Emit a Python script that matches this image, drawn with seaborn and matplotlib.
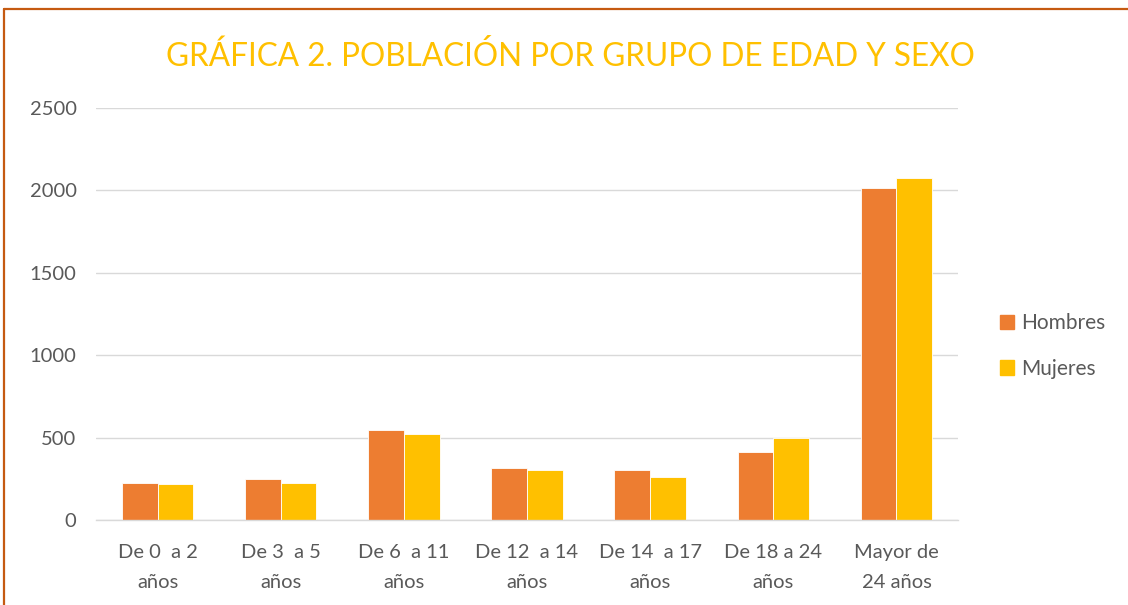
import pandas as pd
import matplotlib.pyplot as plt
import seaborn as sns
from matplotlib.patches import Patch
from matplotlib.lines import Line2D

sns.set_theme(style="white")
plt.rcParams['font.family'] = ['Lato', 'DejaVu Sans']

# Datos
grupos = ['De 0  a 2\naños', 'De 3  a 5\naños', 'De 6  a 11\naños', 'De 12  a 14\naños',
          'De 14  a 17\naños', 'De 18 a 24\naños', 'Mayor de\n24 años']
hombres = [227, 246, 545, 317, 306, 412, 2014]
mujeres = [219, 227, 524, 305, 259, 500, 2075]
series = ['Hombres', 'Mujeres']
colores = ['#ED7D31', '#FFC000']

df = pd.DataFrame({
    'Grupo': grupos * 2,
    'Sexo': ['Hombres'] * len(grupos) + ['Mujeres'] * len(grupos),
    'Población': hombres + mujeres,
})

fig = plt.figure(figsize=(11.28, 6.05), dpi=100)
ax = fig.add_axes([0.0851, 0.1405, 0.7642, 0.681])

sns.barplot(data=df, x='Grupo', y='Población', hue='Sexo', palette=colores, saturation=1,
            width=0.58, gap=0, edgecolor='white', linewidth=0.6, legend=False, ax=ax)

ax.set_ylim(0, 2500)
ax.set_yticks([0, 500, 1000, 1500, 2000, 2500])
ax.set_xlim(-0.5, len(grupos) - 0.5)
ax.set_xticks(range(len(grupos)))
ax.set_xticklabels(grupos, linespacing=1.95)
ax.yaxis.grid(True, color='#D9D9D9', linewidth=1)
ax.set_axisbelow(True)
for s in ['top', 'right', 'left']:
    ax.spines[s].set_visible(False)
ax.spines['bottom'].set_color('#D9D9D9')
ax.spines['bottom'].set_linewidth(1)
ax.set_xlabel('')
ax.set_ylabel('')
ax.tick_params(axis='both', length=0, labelsize=14.5, labelcolor='#595959')
ax.tick_params(axis='x', pad=17)
ax.tick_params(axis='y', pad=14)

# Título
fig.text(0.506, 0.906, 'GRÁFICA 2. POBLACIÓN POR GRUPO DE EDAD Y SEXO',
         ha='center', va='center', fontsize=22.7, color='#FFC000')

# Leyenda
handles = [Patch(facecolor=c, edgecolor=c, label=l) for c, l in zip(colores, series)]
fig.legend(handles=handles, loc='center left', bbox_to_anchor=(0.877, 0.428),
           frameon=False, fontsize=15, labelcolor='#595959', handlelength=0.7,
           handleheight=0.7, handletextpad=0.35, labelspacing=1.22, borderpad=0)

# Borde del gráfico
borde = '#C55A11'
fig.add_artist(Line2D([4 / 1128, 1], [1 - 9 / 605, 1 - 9 / 605], color=borde, lw=1.6,
                      transform=fig.transFigure))
fig.add_artist(Line2D([4 / 1128, 4 / 1128], [0, 1 - 9 / 605], color=borde, lw=1.6,
                      transform=fig.transFigure))

plt.savefig('out.png', dpi=100)
